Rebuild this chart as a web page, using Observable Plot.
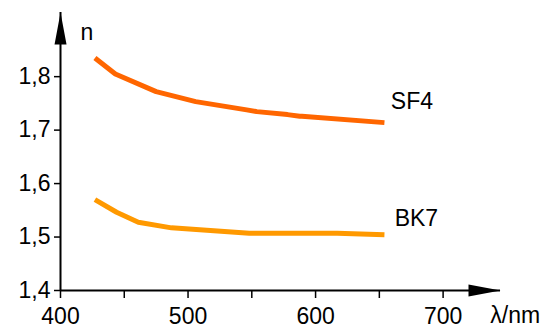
<!DOCTYPE html>
<html>
<head>
<meta charset="utf-8">
<script src="https://cdn.jsdelivr.net/npm/d3@7"></script>
<script src="https://cdn.jsdelivr.net/npm/@observablehq/plot@0.6"></script>
<style>
  html, body { margin: 0; padding: 0; background: #fff; }
</style>
</head>
<body>
<div id="chart"></div>
<script>
// Wavelength (nm) and refractive index n
const sf4Lambda = [427, 443, 475, 506, 546, 554, 578, 587.6, 589.3, 654];
const sf4N      = [1.835, 1.805, 1.772, 1.7533, 1.7378, 1.7346, 1.729, 1.7258, 1.7258, 1.714];
const bk7Lambda = [427, 444, 461, 487, 548, 617, 654];
const bk7N      = [1.570, 1.5464, 1.5277, 1.5172, 1.5071, 1.5071, 1.5041];

const xTicks = [400, 450, 500, 550, 600, 650, 700];
const xTickLabels = ["400", "", "500", "", "600", "", "700"];
const yTicks = [1.4, 1.5, 1.6, 1.7, 1.8];
const yTickLabels = ["1,4", "1,5", "1,6", "1,7", "1,8"];

const seriesNames = ["SF4", "BK7"];
const seriesColors = ["#ff6600", "#ff9900"];
const seriesLabelPos = [{x: 659, y: 1.7402}, {x: 662, y: 1.5215}];

const xDomain = [400, 745];
const yDomain = [1.4, 1.92];

const sf4 = sf4Lambda.map((x, i) => ({x, y: sf4N[i]}));
const bk7 = bk7Lambda.map((x, i) => ({x, y: bk7N[i]}));

const arrowUp = {
  draw(ctx) {
    ctx.moveTo(0, 0);
    ctx.lineTo(-6, 32);
    ctx.lineTo(6, 32);
    ctx.closePath();
  }
};

const font = "'Liberation Sans', Arial, Helvetica, sans-serif";

const chart = Plot.plot({
  width: 553,
  height: 328,
  marginLeft: 60,
  marginRight: 53,
  marginTop: 12,
  marginBottom: 38,
  style: {fontFamily: font, fontSize: "23px", color: "#000", background: "#fff"},
  x: {domain: xDomain, label: null},
  y: {domain: yDomain, label: null},
  marks: [
    Plot.line(sf4, {x: "x", y: "y", stroke: seriesColors[0], strokeWidth: 5, strokeLinecap: "butt", strokeLinejoin: "round"}),
    Plot.line(bk7, {x: "x", y: "y", stroke: seriesColors[1], strokeWidth: 5, strokeLinecap: "butt", strokeLinejoin: "round"}),
    Plot.ruleX([xDomain[0]], {y1: yDomain[0], y2: yDomain[1], stroke: "#000", strokeWidth: 2}),
    Plot.ruleY([yDomain[0]], {x1: xDomain[0], x2: xDomain[1], stroke: "#000", strokeWidth: 2}),
    Plot.dot([{x: xDomain[0], y: yDomain[1]}], {x: "x", y: "y", symbol: arrowUp, fill: "#000", stroke: null}),
    Plot.dot([{x: xDomain[1], y: yDomain[0]}], {x: "x", y: "y", symbol: arrowUp, fill: "#000", stroke: null, rotate: 90}),
    Plot.axisX({ticks: xTicks, tickSize: 8, tickPadding: 9, tickFormat: (d, i) => xTickLabels[i], stroke: "#000", strokeWidth: 1.5, fontSize: 23, label: null}),
    Plot.axisY({ticks: yTicks, tickSize: 6, tickPadding: 4, tickFormat: (d, i) => yTickLabels[i], stroke: "#000", strokeWidth: 1.5, fontSize: 23, label: null}),
    Plot.text(seriesNames, {x: (d, i) => seriesLabelPos[i].x, y: (d, i) => seriesLabelPos[i].y, text: d => d, textAnchor: "start", lineAnchor: "bottom", fontSize: 23, fill: "#000"}),
    Plot.text(["n"], {x: 415.7, y: 1.869, text: d => d, textAnchor: "start", lineAnchor: "bottom", fontSize: 23, fill: "#000"}),
    Plot.text(["λ/nm"], {x: 737, y: 1.3383, text: d => d, textAnchor: "start", lineAnchor: "bottom", fontSize: 23, fill: "#000"})
  ]
});
document.getElementById("chart").appendChild(chart);
</script>
</body>
</html>
